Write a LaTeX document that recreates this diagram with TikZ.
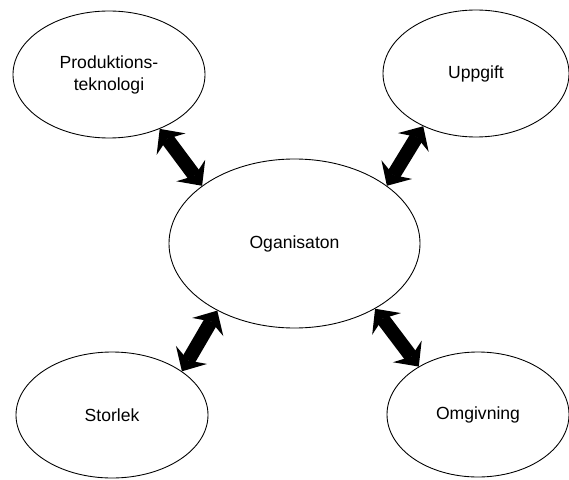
\documentclass[tikz,border=0pt]{standalone}
\usepackage{fontspec}
\setmainfont{Liberation Sans}
\usepackage{tikz}
\usetikzlibrary{arrows.meta}
\usetikzlibrary{shapes.geometric}
\tikzstyle{blob}=[ellipse,draw,line width=.5pt,inner sep=0pt,align=center,font=\fontsize{10}{12.5}\selectfont]
\tikzstyle{dblhead}=[>/.tip={Stealth[length=.38cm,width=.72cm,inset=.13cm,line width=0pt]}]
\tikzstyle{dbl}=[line width=.28cm,dblhead,<->]

\begin{document}
\begin{tikzpicture}
	\useasboundingbox (0,0) rectangle (11.38,9.58);
	\node[blob,minimum width=3.84cm,minimum height=2.54cm] (prod) at (2.18,8.09) {Produktions-\\teknologi};
	\node[blob,minimum width=3.72cm,minimum height=2.54cm] (upp)  at (9.52,8.11) {Uppgift};
	\node[blob,minimum width=5.02cm,minimum height=3.38cm] (org)  at (5.89,4.71) {Oganisaton};
	\node[blob,minimum width=3.84cm,minimum height=2.52cm] (stor) at (2.24,1.28) {Storlek};
	\node[blob,minimum width=3.64cm,minimum height=2.50cm] (omg)  at (9.56,1.29) {Omgivning};
	\draw[dbl] (prod.-47) -- (org.148);
	\draw[dbl] (upp.225)  -- (org.32);
	\draw[dbl] (stor.32)  -- (org.221);
	\draw[dbl] (omg.141)  -- (org.-39);
\end{tikzpicture}
\end{document}
